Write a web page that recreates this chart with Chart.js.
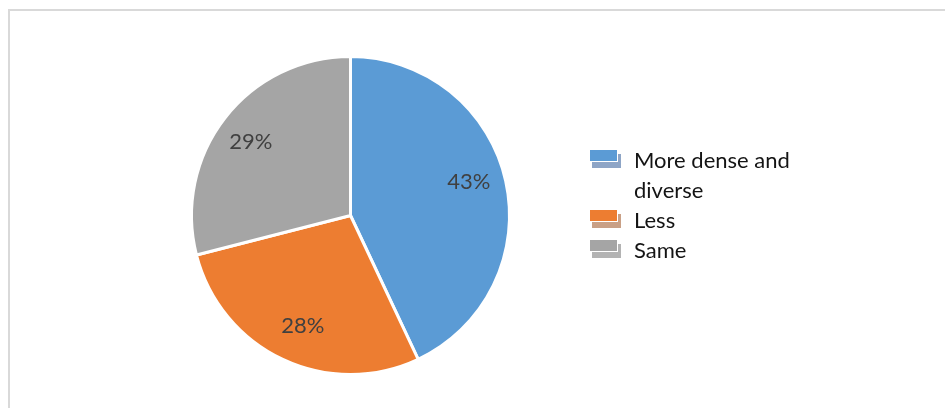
<!DOCTYPE html>
<html>
<head>
<meta charset="utf-8">
<script src="https://cdn.jsdelivr.net/npm/chart.js@4.4.1/dist/chart.umd.min.js"></script>
<style>
  html, body { margin: 0; padding: 0; background: #fff; }
  #wrap { position: relative; width: 945px; height: 408px; overflow: hidden; }
  #frame { position: absolute; left: 8px; top: 9px; width: 1000px; height: 500px;
           border-top: 2px solid #d9d9d9; border-left: 2px solid #d9d9d9; box-sizing: border-box; }
  canvas { position: absolute; left: 0; top: 0; }
</style>
</head>
<body>
<div id="wrap">
  <div id="frame"></div>
  <canvas id="pieChart" width="945" height="408"></canvas>
</div>
<script>
const labels = [['More dense and', 'diverse'], 'Less', 'Same'];
const shares = [43, 28, 29];
const sliceColors = ['#5b9bd5', '#ed7d31', '#a5a5a5'];
const shadowColors = ['#8ea5c6', '#c9a086', '#b3b3b3'];

const FONT = 'Lato, "Open Sans", sans-serif';

// percentage text inside each slice
const sliceLabels = {
    id: 'sliceLabels',
    afterDatasetsDraw(chart) {
        const ctx = chart.ctx;
        const meta = chart.getDatasetMeta(0);
        ctx.save();
        ctx.font = '22px ' + FONT;
        ctx.fillStyle = '#404040';
        ctx.textAlign = 'center';
        ctx.textBaseline = 'middle';
        meta.data.forEach((arc, i) => {
            const p = arc.getProps(['x', 'y', 'startAngle', 'endAngle', 'outerRadius']);
            const mid = (p.startAngle + p.endAngle) / 2 - 0.04;
            const r = p.outerRadius * 0.77;
            ctx.fillText(shares[i] + '%', p.x + Math.cos(mid) * r, p.y + Math.sin(mid) * r - 2);
        });
        ctx.restore();
    }
};

// legend with the little drop-shadow boxes
const shadowLegend = {
    id: 'shadowLegend',
    afterDraw(chart) {
        const ctx = chart.ctx;
        const x = 589, lineH = 30;
        let y = 163;
        ctx.save();
        ctx.font = '22px ' + FONT;
        ctx.textBaseline = 'middle';
        labels.forEach((lab, i) => {
            const lines = Array.isArray(lab) ? lab : [lab];
            ctx.fillStyle = shadowColors[i];
            ctx.fillRect(x + 3, y - 9, 29, 14);
            ctx.fillStyle = sliceColors[i];
            ctx.fillRect(x, y - 14, 29, 13);
            ctx.strokeStyle = '#ffffff';
            ctx.lineWidth = 1;
            ctx.strokeRect(x + 0.5, y - 13.5, 28, 12);
            ctx.fillStyle = '#141414';
            lines.forEach((t, k) => ctx.fillText(t, x + 45, y + k * lineH - 2));
            y += lines.length * lineH;
        });
        ctx.restore();
    }
};

new Chart(document.getElementById('pieChart'), {
    type: 'pie',
    data: {
        labels: labels,
        datasets: [{
            data: shares,
            backgroundColor: sliceColors,
            borderColor: '#ffffff',
            borderWidth: 3
        }]
    },
    options: {
        responsive: false,
        animation: false,
        layout: { padding: { left: 190, right: 434, top: 55, bottom: 32 } },
        plugins: {
            legend: { display: false },
            tooltip: { enabled: false }
        }
    },
    plugins: [sliceLabels, shadowLegend]
});
</script>
</body>
</html>
